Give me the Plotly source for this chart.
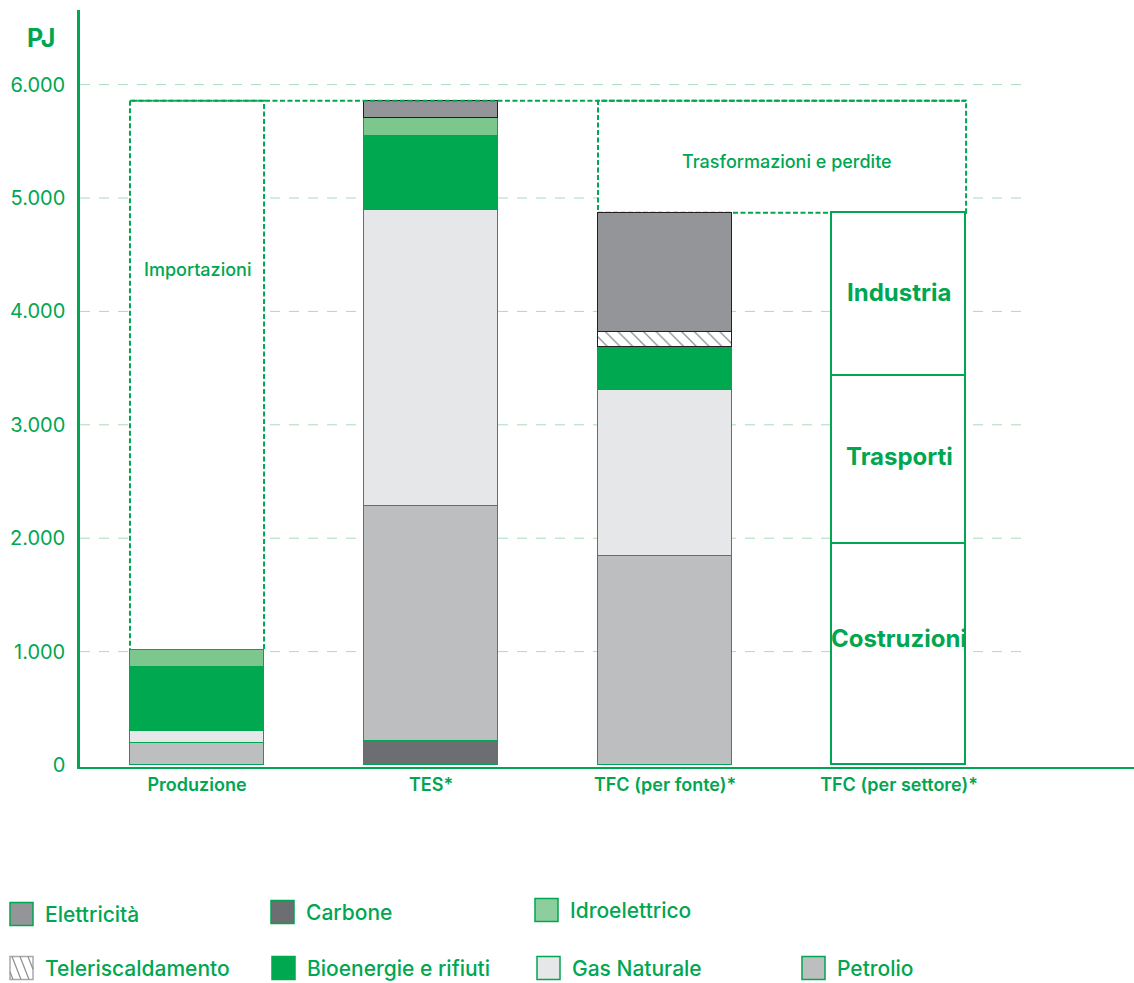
import plotly.graph_objects as go

# ---- data (PJ) ----
categories = ["Produzione", "TES*", "TFC (per fonte)*", "TFC (per settore)*"]

# energy by source for Produzione, TES*, TFC (per fonte)*; None = not present
carbone = [None, 214, None]
petrolio = [197, 2073, 1843]
gas_naturale = [103, 2607, 1464]
bioenergie = [565, 653, 382]
teleriscaldamento = [None, None, 127]
idroelettrico = [150, 156, None]
elettricita = [None, 155, 1054]

# final consumption by sector
settori = ["Costruzioni", "Trasporti", "Industria"]
settori_pj = [1950, 1480, 1440]

y_ticks = [0, 1000, 2000, 3000, 4000, 5000, 6000]
y_tick_labels = ["0", "1.000", "2.000", "3.000", "4.000", "5.000", "6.000"]

# ---- styling ----
GREEN = "#00A651"
GRID = "#A9DDB9"
DARK = "#231F20"
FONT = "Inter"
BAR_W = 0.573

W, H = 1134, 983
M_L, M_R, M_T, M_B = 80, 0, 10, 216

def tot(vals):
    return sum(v for v in vals if v is not None)

series = [
    ("Carbone", carbone, "#6D6E71", GREEN, None),
    ("Petrolio", petrolio, "#BCBEC0", GREEN, None),
    ("Gas Naturale", gas_naturale, "#E6E7E8", GREEN, None),
    ("Bioenergie e rifiuti", bioenergie, "#00A84F", GREEN, None),
    ("Teleriscaldamento", teleriscaldamento, "#FFFFFF", DARK, "\\"),
    ("Idroelettrico", idroelettrico, "#7BC78E", GREEN, None),
    ("Elettricità", elettricita, "#939598", DARK, None),
]

fig = go.Figure()
xs = [0, 1, 2]
for name, vals, color, edge, hatch in series:
    marker = dict(color=color, line=dict(color=edge, width=1.5))
    if hatch:
        marker["pattern"] = dict(shape=hatch, fgcolor="#8C8E91", bgcolor="#FFFFFF",
                                 size=9, solidity=0.14, fillmode="replace")
    fig.add_trace(go.Bar(x=xs, y=vals, name=name, width=BAR_W, marker=marker,
                         showlegend=False, hoverinfo="name+y"))

for name, val in zip(settori, settori_pj):
    fig.add_trace(go.Bar(x=[3], y=[val], name=name, width=BAR_W,
                         marker=dict(color="#FFFFFF", line=dict(color=GREEN, width=1.8)),
                         showlegend=False, hoverinfo="name+y"))

prod_tot = tot([petrolio[0], gas_naturale[0], bioenergie[0], idroelettrico[0]])
tes_tot = tot([v[1] for _, v, *_ in series])
tfc_tot = tot([v[2] for _, v, *_ in series])

y_min = -17.6
y_max = 6658
x_min, x_max = -0.5, 4.004

shapes = []
# horizontal dashed gridlines
for t in y_ticks[1:]:
    shapes.append(dict(type="line", xref="x", yref="y", x0=x_min, x1=3.54, y0=t, y1=t,
                       line=dict(color=GRID, width=1, dash="10px,9px"), layer="below"))

dash_box = dict(color=GREEN, width=2, dash="5px,2.5px")
# imports box above domestic production
shapes.append(dict(type="rect", xref="x", yref="y", x0=-BAR_W / 2, x1=BAR_W / 2,
                   y0=prod_tot, y1=tes_tot, line=dash_box, fillcolor="#FFFFFF", layer="below"))
# transformation & losses box
shapes.append(dict(type="rect", xref="x", yref="y", x0=2 - BAR_W / 2, x1=3 + BAR_W / 2,
                   y0=tfc_tot, y1=tes_tot, line=dash_box, fillcolor="#FFFFFF", layer="below"))
# connecting top line
shapes.append(dict(type="line", xref="x", yref="y", x0=-BAR_W / 2, x1=3 + BAR_W / 2,
                   y0=tes_tot, y1=tes_tot, line=dash_box, layer="above"))

annotations = []
annotations.append(dict(x=0, y=4374, xref="x", yref="y", text="Importazioni", showarrow=False,
                        font=dict(family=FONT, size=18, color=GREEN, weight=500)))
annotations.append(dict(x=2.52, y=(tfc_tot + tes_tot) / 2 - 40, xref="x", yref="y",
                        text="Trasformazioni e perdite", showarrow=False,
                        font=dict(family=FONT, size=18, color=GREEN, weight=500)))

# sector labels inside the TFC (per settore) column
label_frac = [0.57, 0.52, 0.51]
base = 0
for name, val, f in zip(settori, settori_pj, label_frac):
    annotations.append(dict(x=3, y=base + val * f, xref="x", yref="y", text=f"<b>{name}</b>",
                            showarrow=False,
                            font=dict(family=FONT, size=24, color=GREEN)))
    base += val

# ---- pixel helpers for items outside the plot area ----
pw, ph = W - M_L - M_R, H - M_T - M_B

def px(xp):
    return (xp - M_L) / pw

def py(yp):
    return (H - M_B - yp) / ph

annotations.append(dict(x=px(41), y=py(38), xref="paper", yref="paper",
                        xanchor="center", yanchor="middle", text="<b>PJ</b>", showarrow=False,
                        font=dict(family=FONT, size=25, color=GREEN)))

legend_items = [
    ("Elettricità", "#939598", GREEN, 10, 914, None),
    ("Carbone", "#6D6E71", GREEN, 271, 912, None),
    ("Idroelettrico", "#8CCF9C", GREEN, 535, 910, None),
    ("Teleriscaldamento", "#FFFFFF", "#A7A9AC", 10, 968, "hatch"),
    ("Bioenergie e rifiuti", "#00A84F", "#00A84F", 272, 968, None),
    ("Gas Naturale", "#E6E7E8", GREEN, 537, 968, None),
    ("Petrolio", "#BCBEC0", GREEN, 802, 968, None),
]
SW = 23
for name, fill, edge, x0, yc, kind in legend_items:
    y0, y1 = yc - SW / 2, yc + SW / 2
    shapes.append(dict(type="rect", xref="paper", yref="paper",
                       x0=px(x0), x1=px(x0 + SW), y0=py(y1), y1=py(y0),
                       fillcolor=fill, line=dict(color=edge, width=1.5), layer="above"))
    if kind == "hatch":
        run = 9.0
        for start in [-6, 2, 10, 18]:
            xa, ya = x0 + start, y0
            xb = x0 + start + run
            # clip segment to swatch box
            t0, t1 = 0.0, 1.0
            if xa < x0:
                t0 = (x0 - xa) / run
            if xb > x0 + SW:
                t1 = (x0 + SW - xa) / run
            if t1 <= t0:
                continue
            sx0, sy0 = xa + run * t0, ya + SW * t0
            sx1, sy1 = xa + run * t1, ya + SW * t1
            shapes.append(dict(type="line", xref="paper", yref="paper",
                               x0=px(sx0), y0=py(sy0), x1=px(sx1), y1=py(sy1),
                               line=dict(color="#8C8E91", width=1.2), layer="above"))
    annotations.append(dict(x=px(x0 + 33), y=py(yc), xref="paper", yref="paper",
                            xanchor="left", yanchor="middle", text=name, showarrow=False,
                            font=dict(family=FONT, size=21, color=GREEN, weight=500)))

fig.update_layout(
    width=W, height=H, autosize=False,
    margin=dict(l=M_L, r=M_R, t=M_T, b=M_B),
    paper_bgcolor="#FFFFFF", plot_bgcolor="#FFFFFF",
    barmode="stack", bargap=0,
    shapes=shapes, annotations=annotations,
    showlegend=False,
    xaxis=dict(range=[x_min, x_max], tickvals=[0, 1, 2, 3], ticktext=categories,
               showgrid=False, zeroline=False, showline=True, linecolor=GREEN, linewidth=2,
               ticks="", tickfont=dict(family=FONT, size=18, color=GREEN, weight=600),
               fixedrange=True),
    yaxis=dict(range=[y_min, y_max], tickvals=y_ticks, ticktext=y_tick_labels,
               showgrid=False, zeroline=False, showline=True, linecolor=GREEN, linewidth=2.5,
               ticks="", ticklabelstandoff=8,
               tickfont=dict(family=FONT, size=20, color=GREEN), fixedrange=True),
)

fig.write_html("out.html")
